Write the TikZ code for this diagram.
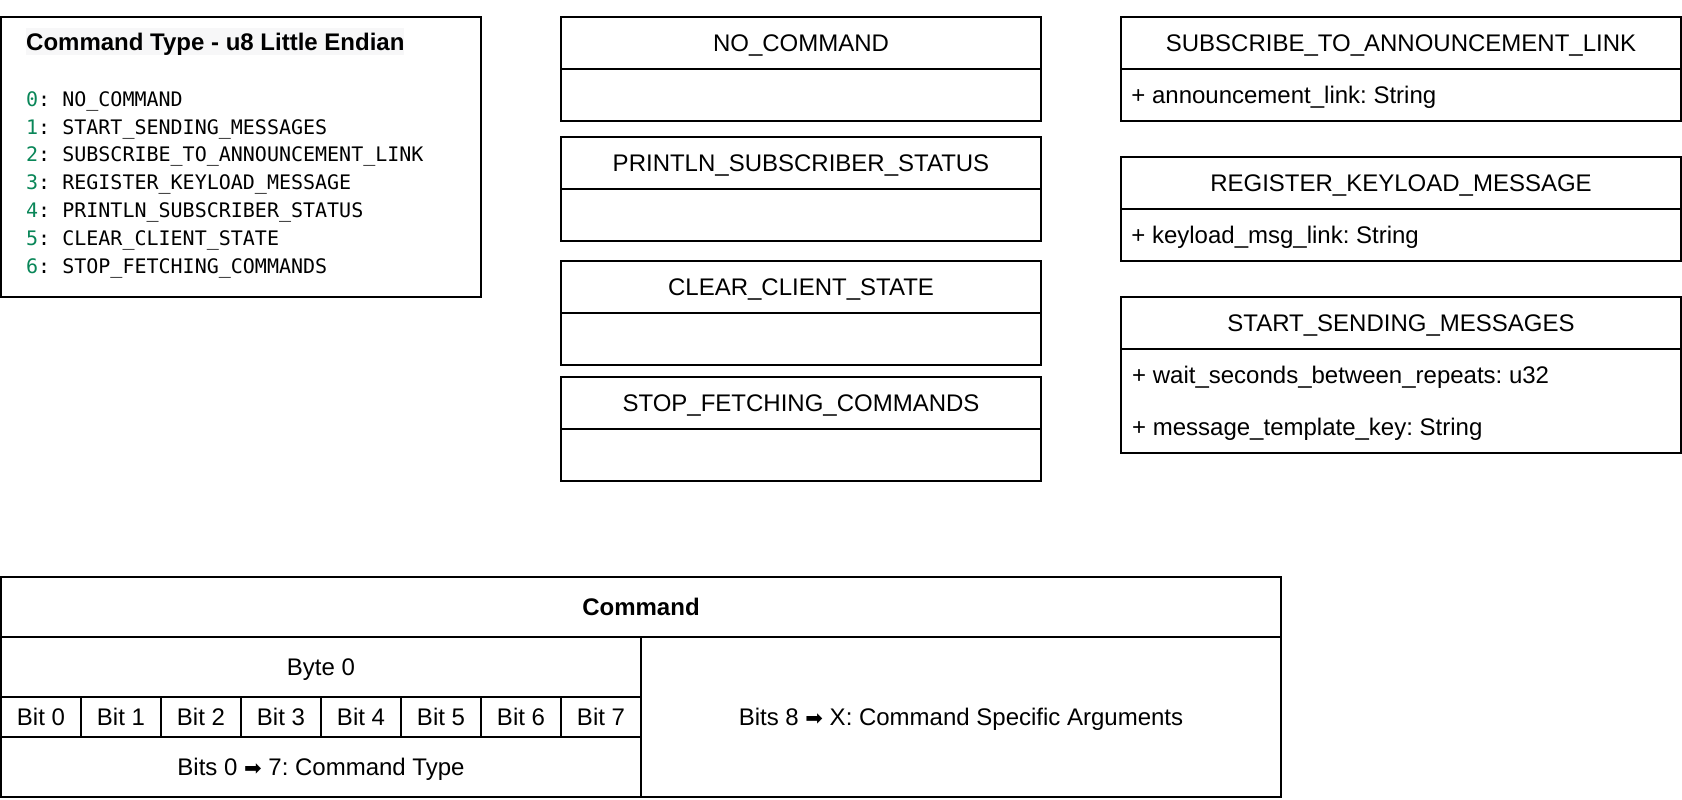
\documentclass[tikz,border=0pt]{standalone}
\usepackage{fontspec}
\setmainfont{Liberation Sans}
\newfontfamily\listfont{DejaVu Sans Mono}
\newfontfamily\arrowfont{DejaVu Sans}
\definecolor{numgreen}{HTML}{098658}
\definecolor{titlebg}{HTML}{F7F7F8}
\newcommand{\rarr}{{\arrowfont\fontsize{21}{24}\selectfont ➡}}
\frenchspacing
\begin{document}
\begin{tikzpicture}[x=1pt,y=-1pt,
  txt/.style={font=\fontsize{24}{28}\selectfont, text height=17pt, text depth=0pt},
  cell/.style={txt, draw=black, line width=1.6pt, rectangle, inner sep=0pt},
  midbox/.style={cell, minimum width=480pt, minimum height=52pt},
  rbox/.style={cell, minimum width=560pt, minimum height=52pt},
  fld/.style={txt, inner sep=0pt, anchor=west},
  lst/.style={font=\listfont\fontsize{20}{24}\selectfont, text height=14.6pt, text depth=0pt, inner sep=0pt, anchor=west}
]
\useasboundingbox (0,0) rectangle (1682,800);

% legend panel
\node[cell, minimum width=480pt, minimum height=280pt] (legend) at (241,157) {};
\node[txt, font=\fontsize{24}{28}\selectfont\bfseries, fill=titlebg, inner xsep=0pt, inner ysep=5pt, anchor=west] (ltitle) at (26,42) {Command Type - u8 Little Endian};
\foreach \i/\t in {0/NO\_COMMAND, 1/START\_SENDING\_MESSAGES, 2/SUBSCRIBE\_TO\_ANNOUNCEMENT\_LINK, 3/REGISTER\_KEYLOAD\_MESSAGE, 4/PRINTLN\_SUBSCRIBER\_STATUS, 5/CLEAR\_CLIENT\_STATE, 6/STOP\_FETCHING\_COMMANDS}
  \node[lst] (l\i) at (26,99+27.8*\i) {\textcolor{numgreen}{\i}: \t};

% middle column
\node[midbox] (nch) at (801,43) {NO\_COMMAND};
\node[midbox] (ncb) at (801,95) {};
\node[midbox] (psh) at (801,163) {PRINTLN\_SUBSCRIBER\_STATUS};
\node[midbox] (psb) at (801,215) {};
\node[midbox] (cch) at (801,287) {CLEAR\_CLIENT\_STATE};
\node[midbox] (ccb) at (801,339) {};
\node[midbox] (sfh) at (801,403) {STOP\_FETCHING\_COMMANDS};
\node[midbox] (sfb) at (801,455) {};

% right column
\node[rbox] (sah) at (1401,43) {SUBSCRIBE\_TO\_ANNOUNCEMENT\_LINK};
\node[rbox] (sab) at (1401,95) {};
\node[fld] (saf) at ([xshift=11pt]sab.west) {+ announcement\_link: String};
\node[rbox] (rkh) at (1401,183) {REGISTER\_KEYLOAD\_MESSAGE};
\node[rbox] (rkb) at (1401,235) {};
\node[fld] (rkf) at ([xshift=11pt]rkb.west) {+ keyload\_msg\_link: String};
\node[rbox] (ssh) at (1401,323) {START\_SENDING\_MESSAGES};
\node[rbox, minimum height=104pt] (ssb) at (1401,401) {};
\node[fld] (ssf1) at (1132,375) {+ wait\_seconds\_between\_repeats: u32};
\node[fld] (ssf2) at (1132,427) {+ message\_template\_key: String};

% command layout table
\node[cell, font=\fontsize{24}{28}\selectfont\bfseries, minimum width=1280pt, minimum height=60pt] (cmd) at (641,607) {Command};
\node[cell, minimum width=640pt, minimum height=60pt] (byte) at (321,667) {Byte 0};
\foreach \i in {0,...,7}
  \node[cell, minimum width=80pt, minimum height=40pt] (bit\i) at (41+80*\i,717) {Bit \i};
\node[cell, minimum width=640pt, minimum height=60pt] (ctype) at (321,767) {Bits 0 \rarr{} 7: Command Type};
\node[cell, minimum width=640pt, minimum height=160pt] (args) at (961,717) {Bits 8 \rarr{} X: Command Specific Arguments};
\end{tikzpicture}
\end{document}
